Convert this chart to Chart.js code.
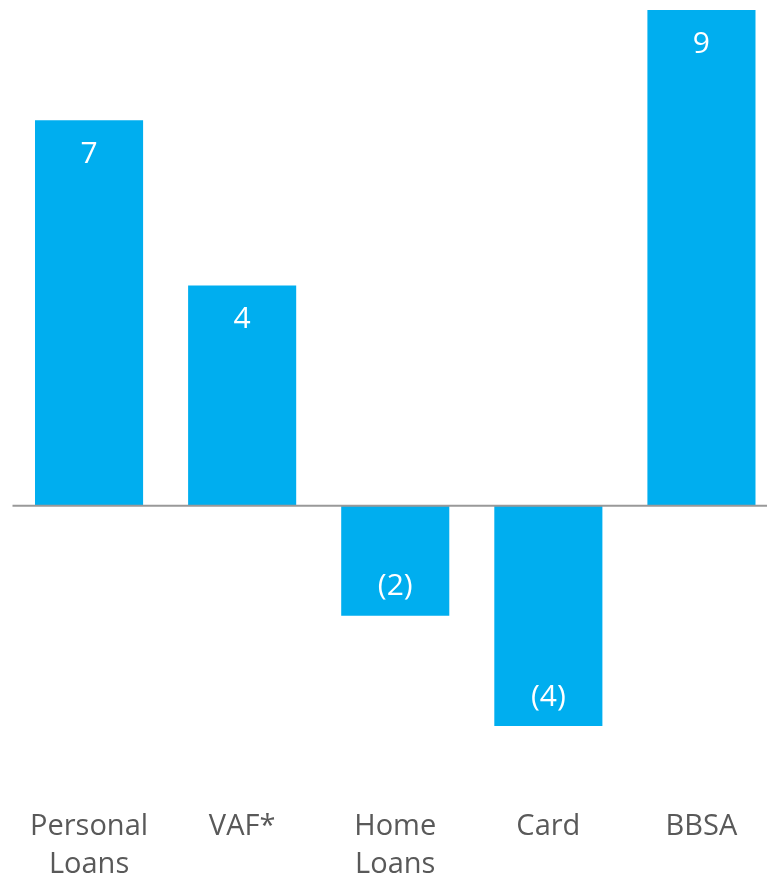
<!DOCTYPE html>
<html>
<head>
<meta charset="utf-8">
<script src="https://cdn.jsdelivr.net/npm/chart.js@4/dist/chart.umd.min.js"></script>
<style>
  html, body { margin: 0; padding: 0; background: #fff; overflow: hidden; }
  #wrap { width: 778px; height: 880px; position: relative; }
</style>
</head>
<body>
<div id="wrap"><canvas id="barChart"></canvas></div>
<script>
const categories = [['Personal', 'Loans'], 'VAF*', ['Home', 'Loans'], 'Card', 'BBSA']
const values = [7, 4, -2, -4, 9]
const valueLabels = ['7', '4', '(2)', '(4)', '9']

const barColor = '#00AEEF'
const fontFamily = '"Open Sans", "Noto Sans", sans-serif'

// zero baseline across the plot
const zeroLine = {
  id: 'zeroLine',
  afterDatasetsDraw(chart) {
    const { ctx, chartArea, scales } = chart
    const y = scales.y.getPixelForValue(0)
    ctx.save()
    ctx.strokeStyle = '#999999'
    ctx.lineWidth = 2
    ctx.beginPath()
    ctx.moveTo(chartArea.left, y)
    ctx.lineTo(chartArea.right, y)
    ctx.stroke()
    ctx.restore()
  },
}

// value text inside the end of each bar
const barLabels = {
  id: 'barLabels',
  afterDatasetsDraw(chart) {
    const { ctx } = chart
    const meta = chart.getDatasetMeta(0)
    ctx.save()
    ctx.fillStyle = '#ffffff'
    ctx.font = '30px ' + fontFamily
    ctx.textAlign = 'center'
    ctx.textBaseline = 'middle'
    meta.data.forEach((bar, i) => {
      const y = values[i] >= 0 ? bar.y + 34 : bar.y - 29
      ctx.fillText(valueLabels[i], bar.x, y)
    })
    ctx.restore()
  },
}

document.addEventListener('DOMContentLoaded', () => {
  const ctx = document.getElementById('barChart').getContext('2d')

  new Chart(ctx, {
    type: 'bar',
    data: {
      labels: categories,
      datasets: [
        {
          data: values,
          backgroundColor: barColor,
          borderWidth: 0,
          barPercentage: 0.706,
          categoryPercentage: 1,
        },
      ],
    },
    options: {
      responsive: true,
      maintainAspectRatio: false,
      animation: false,
      layout: { padding: { left: 12.5, top: 10, right: 0, bottom: 0 } },
      plugins: {
        legend: { display: false },
        tooltip: { enabled: false },
      },
      scales: {
        x: {
          grid: { display: false, drawTicks: false },
          border: { display: false },
          ticks: {
            padding: 82,
            color: '#595959',
            font: { family: fontFamily, size: 29, lineHeight: 1.31 },
            maxRotation: 0,
            autoSkip: false,
          },
          afterFit(scale) {
            scale.height = 154
            scale.paddingLeft = 0
            scale.paddingRight = 0
          },
        },
        y: {
          display: false,
          min: -4,
          max: 9,
        },
      },
    },
    plugins: [zeroLine, barLabels],
  })
})
</script>
</body>
</html>
